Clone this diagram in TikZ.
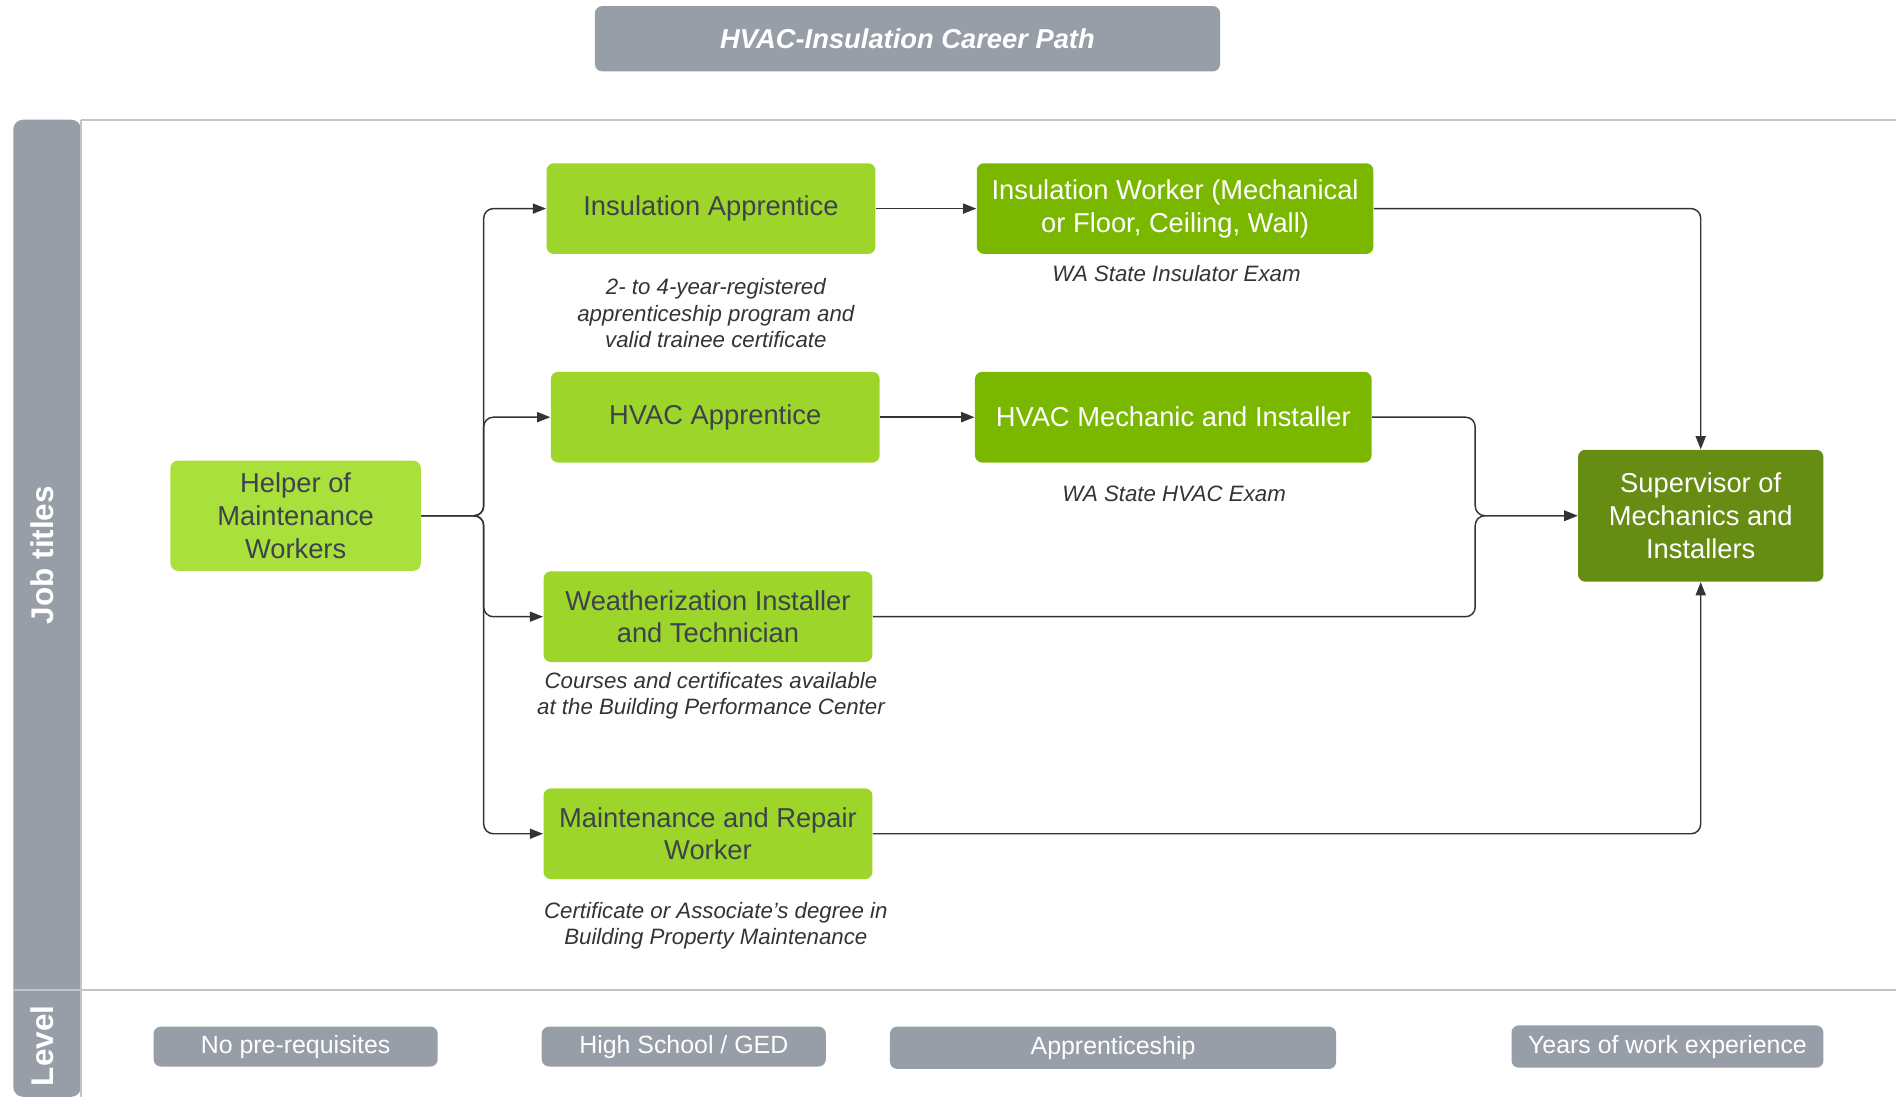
\documentclass[tikz,border=0pt]{standalone}
\usepackage{fontspec}
\setmainfont{Liberation Sans}
\usetikzlibrary{arrows.meta, positioning, calc}

\definecolor{laneGray}{HTML}{979EA8}
\definecolor{helperGreen}{HTML}{A9E03B}
\definecolor{appGreen}{HTML}{9ED52B}
\definecolor{workGreen}{HTML}{7AB800}
\definecolor{supGreen}{HTML}{668C14}
\definecolor{boxText}{HTML}{3C434D}
\definecolor{edgeGray}{HTML}{333333}
\definecolor{frameGray}{HTML}{C4C4C4}

\tikzstyle{line} = [draw=edgeGray, line width=0.6pt, rounded corners=4pt, -{Triangle[length=5.5pt,width=4.2pt]}]

\begin{document}
\begin{tikzpicture}[x=0.5pt, y=-0.5pt, auto, >=Stealth]
  % Define styles
  \tikzstyle{entry} = [rectangle, rounded corners=3pt, minimum width=103.5pt, minimum height=45.5pt, align=center, fill=helperGreen, text=boxText, font=\fontsize{11.3}{13.6}\selectfont]
  \tikzstyle{apprentice} = [entry, fill=appGreen, minimum width=136pt, minimum height=37.5pt]
  \tikzstyle{worker} = [apprentice, fill=workGreen, text=white, minimum width=164pt]
  \tikzstyle{senior} = [entry, fill=supGreen, text=white, minimum width=101.5pt, minimum height=54.5pt]
  \tikzstyle{note} = [align=center, text=edgeGray, font=\fontsize{9.2}{11}\selectfont\itshape]
  \tikzstyle{level} = [rectangle, rounded corners=3pt, fill=laneGray, text=white, minimum width=117.5pt, minimum height=16.5pt, font=\fontsize{10.3}{12}\selectfont]
  \tikzstyle{lane} = [text=white, rotate=90, font=\fontsize{13}{15}\selectfont\bfseries]

  \useasboundingbox (0,0) rectangle (1568,907);

  % Swimlane frame
  \fill[laneGray, rounded corners=4pt] (11,907) -- (11,99) -- (67,99) -- (67,907) -- cycle;
  \draw[frameGray, line width=0.9pt] (67,99) -- (1568,99);
  \draw[frameGray, line width=0.9pt] (11,819) -- (1568,819);
  \draw[frameGray, line width=0.6pt] (67,99) -- (67,907);
  \node [lane] (jobLane) at (35,459) {Job titles};
  \node [lane] (levelLane) at (35,865) {Level};

  % Title
  \node [level, minimum width=258.5pt, minimum height=27pt, font=\fontsize{11.3}{13.6}\selectfont\bfseries\itshape] (title) at (750.5,32) {HVAC-Insulation Career Path};

  % Place nodes
  \node [entry] (helper) at (244.5,426.5) {Helper of\\Maintenance\\Workers};
  \node [apprentice] (insApp) at (588,172.5) {Insulation Apprentice};
  \node [apprentice] (hvacApp) at (591.5,345) {HVAC Apprentice};
  \node [apprentice] (weather) at (585.5,510) {Weatherization Installer\\and Technician};
  \node [apprentice] (maint) at (585.5,689.5) {Maintenance and Repair\\Worker};
  \node [worker, right=41.5pt of insApp] (insWorker) {Insulation Worker (Mechanical\\or Floor, Ceiling, Wall)};
  \node [worker, right=39pt of hvacApp] (hvacMech) {HVAC Mechanic and Installer};
  \node [senior] (sup) at (1406.5,426.5) {Supervisor of\\Mechanics and\\Installers};

  % Notes
  \node [note] (insNote) at (592,259) {2- to 4-year-registered\\apprenticeship program and\\valid trainee certificate};
  \node [note] (insExam) at (973,226) {WA State Insulator Exam};
  \node [note] (hvacExam) at (971,408) {WA State HVAC Exam};
  \node [note] (weatherNote) at (588,575.5) {Courses and certificates available\\at the Building Performance Center};
  \node [note] (maintNote) at (592,765.5) {Certificate or Associate's degree in\\Building Property Maintenance};

  % Levels
  \node [level] (noPrereq) at (244.5,865.5) {No pre-requisites};
  \node [level] (highSchool) at (565.5,865.5) {High School / GED};
  \node [level, minimum width=184.5pt, minimum height=17.5pt] (apprenticeship) at (920.5,866.5) {Apprenticeship};
  \node [level, minimum width=129pt, minimum height=17.5pt] (experience) at (1379,865.5) {Years of work experience};

  \coordinate (split) at (400,426.5);
  \coordinate (join) at (1220,426.5);

  % Draw edges
  \path [line] (helper.east) -- (split) |- (insApp.west);
  \path [line] (helper.east) -- (split) |- (hvacApp.west);
  \path [line] (helper.east) -- (split) |- (weather.west);
  \path [line] (helper.east) -- (split) |- (maint.west);
  \path [line] (insApp) -- (insWorker);
  \path [line] (hvacApp) -- (hvacMech);
  \path [line] (insWorker.east) -| (sup.north);
  \path [line] (hvacMech.east) -| (join) -- (sup.west);
  \path [line] (weather.east) -| (join) -- (sup.west);
  \path [line] (maint.east) -| (sup.south);
\end{tikzpicture}
\end{document}
